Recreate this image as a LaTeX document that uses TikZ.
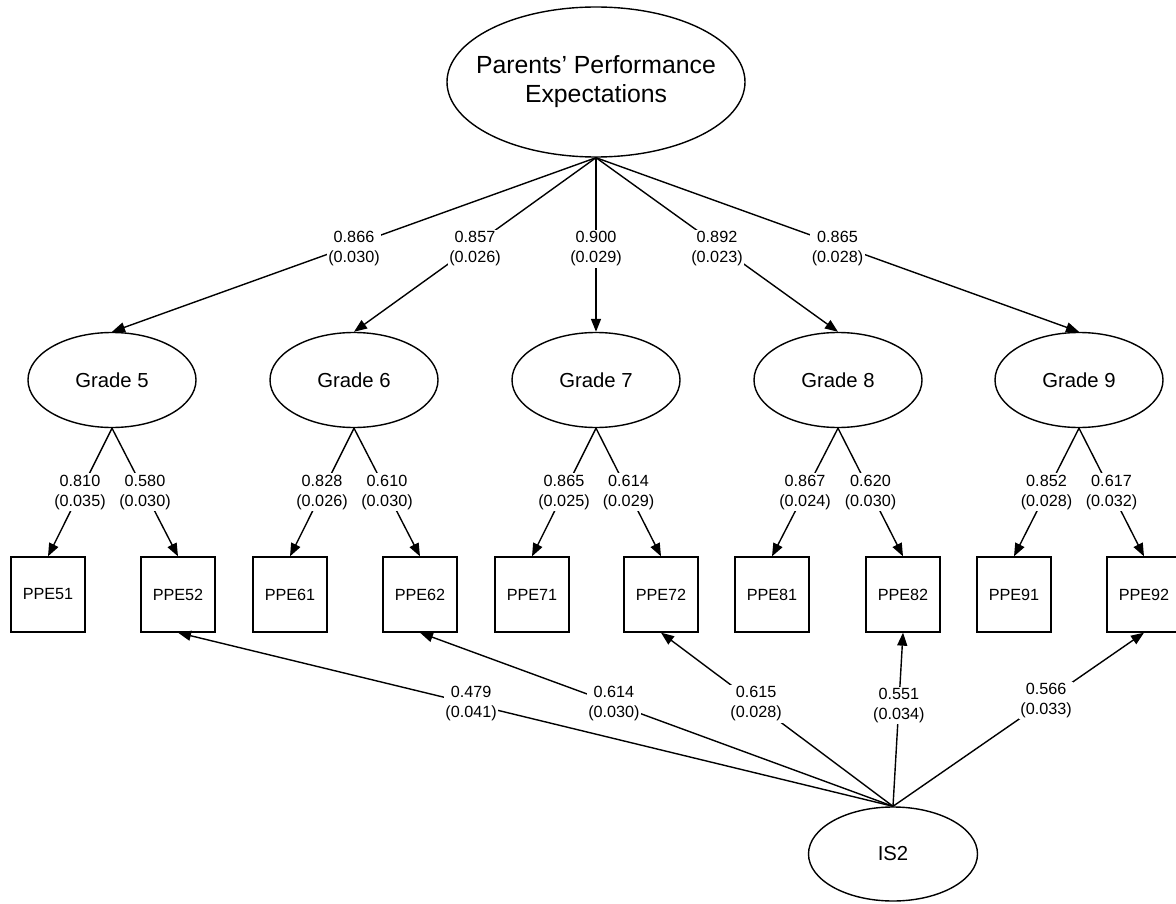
\documentclass[tikz,border=0pt]{standalone}
\usepackage{fontspec}
\setmainfont{Liberation Sans}
\usetikzlibrary{shapes.geometric, arrows.meta}
\begin{document}
\begin{tikzpicture}[x=1pt, y=-1pt,
  lat/.style={ellipse, draw, line width=1.4pt, inner sep=0pt},
  gradelat/.style={lat, minimum width=168pt, minimum height=95pt, font=\fontsize{20.3}{24}\selectfont},
  obs/.style={rectangle, draw, line width=1.3pt, minimum width=74pt, minimum height=75pt, inner sep=0pt, font=\fontsize{16.2}{19}\selectfont},
  loading/.style={line width=1.4pt, -{Triangle[length=13pt,width=10pt]}},
  est/.style={fill=white, inner sep=1.5pt, align=center, font=\fontsize{16.2}{20}\selectfont}]

\useasboundingbox (0,0) rectangle (1176,904);
\clip (0,0) rectangle (1176,904);

% second-order factor
\node[lat, minimum width=298pt, minimum height=150pt,
      label={[align=center, font=\fontsize{24.8}{29}\selectfont]center:Parents’ Performance\\Expectations}]
  (ppe) at (596,82) {};

% first-order factors
\node[gradelat] (g5) at (112,380) {Grade 5};
\node[gradelat] (g6) at (354,380) {Grade 6};
\node[gradelat] (g7) at (596,380) {Grade 7};
\node[gradelat] (g8) at (838,380) {Grade 8};
\node[gradelat] (g9) at (1079,380) {Grade 9};

% indicators
\node[obs] (p51) at (48,594.5) {PPE51};
\node[obs] (p52) at (178,594.5) {PPE52};
\node[obs] (p61) at (290,594.5) {PPE61};
\node[obs] (p62) at (420,594.5) {PPE62};
\node[obs] (p71) at (532,594.5) {PPE71};
\node[obs] (p72) at (661,594.5) {PPE72};
\node[obs] (p81) at (772,594.5) {PPE81};
\node[obs] (p82) at (903,594.5) {PPE82};
\node[obs] (p91) at (1014,594.5) {PPE91};
\node[obs] (p92) at (1144,594.5) {PPE92};

% method factor
\node[gradelat, minimum width=169pt, minimum height=94pt] (is2) at (893,854) {IS2};

% second-order loadings
\draw[loading] (ppe.south) -- node[est, yshift=-4pt] {0.866\\(0.030)} (g5.north);
\draw[loading] (ppe.south) -- node[est, yshift=-4pt] {0.857\\(0.026)} (g6.north);
\draw[loading] (ppe.south) -- node[est, yshift=-4pt] {0.900\\(0.029)} (g7.north);
\draw[loading] (ppe.south) -- node[est, yshift=-4pt] {0.892\\(0.023)} (g8.north);
\draw[loading] (ppe.south) -- node[est, yshift=-4pt] {0.865\\(0.028)} (g9.north);

% first-order loadings
\draw[loading] (g5.south) -- node[est] {0.810\\(0.035)} (p51.north);
\draw[loading] (g5.south) -- node[est] {0.580\\(0.030)} (p52.north);
\draw[loading] (g6.south) -- node[est] {0.828\\(0.026)} (p61.north);
\draw[loading] (g6.south) -- node[est] {0.610\\(0.030)} (p62.north);
\draw[loading] (g7.south) -- node[est] {0.865\\(0.025)} (p71.north);
\draw[loading] (g7.south) -- node[est] {0.614\\(0.029)} (p72.north);
\draw[loading] (g8.south) -- node[est] {0.867\\(0.024)} (p81.north);
\draw[loading] (g8.south) -- node[est] {0.620\\(0.030)} (p82.north);
\draw[loading] (g9.south) -- node[est] {0.852\\(0.028)} (p91.north);
\draw[loading] (g9.south) -- node[est] {0.617\\(0.032)} (p92.north);

% method loadings
\draw[loading] (is2.north) -- node[est, pos=0.59] {0.479\\(0.041)} (p52.south);
\draw[loading] (is2.north) -- node[est, pos=0.59] {0.614\\(0.030)} (p62.south);
\draw[loading] (is2.north) -- node[est, pos=0.59] {0.615\\(0.028)} (p72.south);
\draw[loading] (is2.north) -- node[est, pos=0.58] {0.551\\(0.034)} (p82.south);
\draw[loading] (is2.north) -- node[est, pos=0.61] {0.566\\(0.033)} (p92.south);

\end{tikzpicture}
\end{document}
